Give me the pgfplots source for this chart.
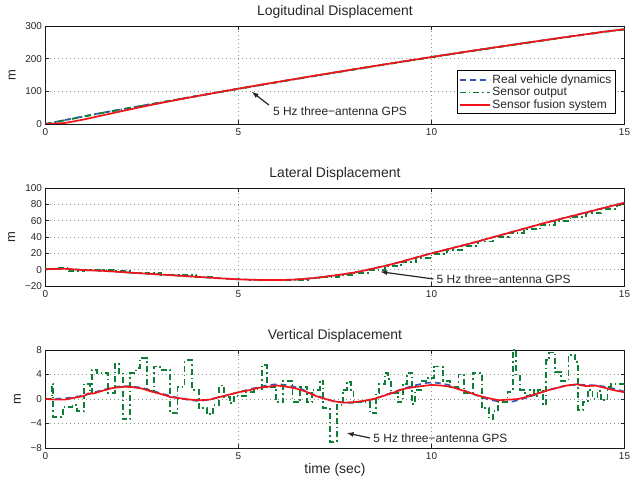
\documentclass[border=0pt]{standalone}
\usepackage{fontspec}
\setmainfont{Liberation Sans}
\usepackage{pgfplots}
\pgfplotsset{compat=1.18}
\definecolor{mblue}{rgb}{0.22,0.33,0.72}
\definecolor{mgreen}{rgb}{0.05,0.50,0.22}
\definecolor{mred}{rgb}{0.95,0.08,0.10}
\usetikzlibrary{arrows.meta}
\tikzset{
  ann/.style={font=\fontsize{12}{14}\selectfont, text=black!85, anchor=west, inner sep=0pt},
  arr/.style={-{Latex[length=7bp,width=5bp]}, line width=1.2pt, black!85},
}
\pgfplotsset{
  mstyle/.style={
    scale only axis, width=579bp, height=98bp,
    xmin=0, xmax=15, xtick={0,5,10,15},
    xticklabels={0,5,10,15},
    grid=major,
    grid style={dash pattern=on 0.8bp off 3.2bp, gray!85, line width=0.7pt},
    tick align=inside, major tick length=4bp,
    every tick/.style={black!85, line width=0.8pt},
    axis line style={line width=0.9pt, black!90},
    tick label style={font=\fontsize{10}{12}\selectfont, text=black!85},
    xticklabel style={yshift=-1bp},
    title style={font=\fontsize{14}{16}\selectfont, text=black!85, yshift=-2bp},
    ylabel style={font=\fontsize{13}{15}\selectfont, text=black!85, xshift=0bp, yshift=3bp},
    clip=true,
  },
  real/.style={mblue, dash pattern=on 6bp off 4bp, line width=1.7pt},
  sens/.style={mgreen, dash pattern=on 6bp off 3bp on 1.5bp off 3bp, line width=1.9pt},
  fus/.style={mred, line width=1.7pt},
}
\begin{document}
\begin{tikzpicture}
\path (0bp,0bp) rectangle (634bp,480bp);
% ---------------- Longitudinal ----------------
\begin{axis}[mstyle, at={(45.5bp,356bp)}, anchor=south west,
  ymin=0, ymax=300, ytick={0,100,200,300}, yticklabels={0,100,200,300},
  title={Logitudinal Displacement}, ylabel={m},
  legend style={at={(0.985,0.099)}, anchor=south east, draw=black, line width=0.8pt,
    font=\fontsize{12}{14}\selectfont, text=black!85, row sep=-1.5bp, inner sep=2bp},
  legend cell align=left,
  legend image code/.code={\draw[#1, line width=1.6pt] (0bp,0bp) -- (30bp,0bp);}]
\addplot[real] coordinates {(0,0) (0.5,12) (1,24) (1.5,35) (2,45.5) (2.5,56) (3,66.5) (3.5,77) (4,87.5) (4.5,97.8) (5,108) (5.5,118.2) (6,128.3) (6.5,138.3) (7,148.1) (7.5,157.9) (8,167.5) (8.5,177.1) (9,186.5) (9.5,195.8) (10,205) (10.5,214.1) (11,223.1) (11.5,232) (12,240.7) (12.5,249.4) (13,257.9) (13.5,266.4) (14,274.7) (14.5,282.9) (15,290)};
\addlegendentry{Real vehicle dynamics}
\addplot[sens] coordinates {(0,0) (0.5,11.5) (1,23) (1.5,34.5) (2,45) (2.5,55.5) (3,66) (3.5,76.5) (4,87) (4.5,97.3) (5,107.5) (5.5,117.7) (6,127.8) (6.5,137.8) (7,147.6) (7.5,157.4) (8,167) (8.5,176.6) (9,186) (9.5,195.3) (10,204.5) (10.5,213.6) (11,222.6) (11.5,231.5) (12,240.2) (12.5,248.9) (13,257.4) (13.5,265.9) (14,274.2) (14.5,282.4) (15,289.5)};
\addlegendentry{Sensor output}
\addplot[fus] coordinates {(0,0) (0.5,3) (1,14) (1.5,27) (2,40) (2.5,52.5) (3,64.5) (3.5,76) (4,87) (4.5,97.8) (5,108.3) (5.5,118.5) (6,128.5) (6.5,138.5) (7,148.3) (7.5,158) (8,167.6) (8.5,177.1) (9,186.5) (9.5,195.8) (10,205) (10.5,214.1) (11,223.1) (11.5,232) (12,240.7) (12.5,249.4) (13,257.9) (13.5,266.4) (14,274.7) (14.5,282.9) (15,290)};
\addlegendentry{Sensor fusion system}
\draw[arr] (axis cs:5.79,58) -- (axis cs:5.34,99);
\node[ann] at (axis cs:5.89,37.6) {5 Hz three−antenna GPS};
\end{axis}
% ---------------- Lateral ----------------
\begin{axis}[mstyle, at={(45.5bp,194bp)}, anchor=south west,
  ymin=-20, ymax=100, ytick={-20,0,20,40,60,80,100},
  yticklabels={−20,0,20,40,60,80,100},
  title={Lateral Displacement}, ylabel={m}]
\addplot[real, smooth] coordinates {(0,0.5) (0.5,1) (1,-0.5) (1.5,-1.5) (2,-3) (2.5,-4.5) (3,-6) (3.5,-7.5) (4,-9) (4.5,-10.5) (5,-11.8) (5.5,-12.5) (6,-12.7) (6.5,-12) (7,-10) (7.5,-7) (8,-3.5) (8.5,1.5) (9,7) (9.5,13.5) (10,20) (10.5,26) (11,32) (11.5,38.5) (12,45) (12.5,51.5) (13,58) (13.5,64) (14,70) (14.5,76) (15,82)};
\addplot[sens, const plot] coordinates {(0,0.5) (0.3,2) (0.6,-1.5) (1,-0.8) (1.5,0) (1.8,-1.5) (2.2,-4.5) (2.6,-4) (3,-6.3) (3.5,-7) (3.9,-9.3) (4.4,-10.8) (4.8,-12) (5.3,-12.8) (5.8,-13.3) (6.3,-12.8) (6.8,-10.8) (7.2,-8.8) (7.6,-6.5) (8,-4) (8.4,0) (8.8,4.5) (9.2,9.5) (9.6,14) (10,19) (10.4,24.5) (10.8,29.5) (11.2,34.5) (11.6,39.5) (12,44.5) (12.4,49.5) (12.8,55) (13.2,60) (13.6,64.5) (14,69) (14.4,74) (14.8,79) (15,81)};
\addplot[fus, smooth] coordinates {(0,0.5) (0.5,1) (1,-0.5) (1.5,-1.5) (2,-3) (2.5,-4.5) (3,-6) (3.5,-7.5) (4,-9) (4.5,-10.5) (5,-11.8) (5.5,-12.5) (6,-12.7) (6.5,-12) (7,-10) (7.5,-7) (8,-3.5) (8.5,1.5) (9,7) (9.5,13.5) (10,20) (10.5,26) (11,32) (11.5,38.5) (12,45) (12.5,51.5) (13,58) (13.5,64) (14,70) (14.5,76) (15,82)};
\draw[arr] (axis cs:10.05,-11.4) -- (axis cs:8.67,-2.5);
\node[ann] at (axis cs:10.13,-11.4) {5 Hz three−antenna GPS};
\end{axis}
% ---------------- Vertical ----------------
\begin{axis}[mstyle, at={(45.5bp,32bp)}, anchor=south west,
  ymin=-8, ymax=8, ytick={-8,-4,0,4,8},
  yticklabels={−8,−4,0,4,8},
  title={Vertical Displacement}, ylabel={m},
  xlabel={time (sec)},
  xlabel style={font=\fontsize{14}{16}\selectfont, text=black!85, yshift=3bp}]
\addplot[real, smooth] coordinates {(0,0) (0.5,0.1) (1,0.6) (1.5,1.5) (2,2.1) (2.5,1.8) (3,0.9) (3.5,0.1) (4,-0.3) (4.5,0.3) (5,1.1) (5.5,1.9) (6,2.4) (6.5,1.9) (7,0.6) (7.5,-0.4) (8,-0.6) (8.5,0.0) (9,1.1) (9.5,2.1) (10,2.7) (10.5,2.2) (11,1.0) (11.5,-0.1) (12,-0.5) (12.5,0.3) (13,1.4) (13.5,2.2) (14,2.3) (14.5,2.0) (15,1.2)};
\addplot[sens, const plot] coordinates {(0,0) (0.16,2.5) (0.2,-2.9) (0.45,-1.3) (0.7,-1.0) (0.82,-2.0) (1.0,2.5) (1.15,1.0) (1.2,4.8) (1.33,4.3) (1.62,1.0) (1.8,5.8) (1.9,4.3) (2.0,-3.3) (2.2,4.3) (2.35,5.0) (2.45,6.7) (2.62,1.3) (2.8,5.3) (2.97,4.7) (3.23,-2.3) (3.42,2.0) (3.6,6.3) (3.8,1.5) (3.97,-1.5) (4.18,-2.5) (4.35,-1.0) (4.5,2.2) (4.62,0.3) (4.78,-0.7) (4.88,0.5) (5.2,1.2) (5.4,1.6) (5.6,5.5) (5.73,2.0) (5.98,-0.5) (6.16,3.0) (6.4,-0.5) (6.6,2.0) (6.77,-0.5) (6.9,1.5) (7.1,3.0) (7.2,-1.5) (7.37,-7.0) (7.55,-1.0) (7.7,1.5) (7.8,2.8) (7.92,1.5) (7.98,-0.5) (8.4,-2.3) (8.57,1.0) (8.65,2.5) (8.8,4.3) (8.87,3.3) (8.95,1.0) (9.13,-0.5) (9.25,2.5) (9.37,4.3) (9.5,-0.8) (9.57,1.5) (9.74,3.0) (9.9,3.5) (10.07,5.3) (10.3,3.0) (10.47,2.0) (10.7,4.0) (10.85,1.0) (11.07,4.3) (11.3,-1.5) (11.5,-3.2) (11.6,-2.0) (11.72,-0.5) (11.97,1.2) (12.1,8.0) (12.2,4.0) (12.3,1.5) (12.42,0.5) (12.55,1.5) (12.65,0.5) (12.75,1.5) (12.9,-1.0) (12.97,6.3) (13.05,7.6) (13.2,4.4) (13.35,3.0) (13.55,7.2) (13.72,6.0) (13.8,-1.8) (13.92,-0.5) (14.05,1.5) (14.17,0) (14.3,1.3) (14.39,-0.2) (14.56,2.0) (14.65,2.4) (15,2.4)};
\addplot[fus] coordinates {(0,0) (0.25,-0.1) (0.5,-0.1) (0.75,0.2) (1.0,0.5) (1.1,0.9) (1.25,0.9) (1.5,1.4) (1.75,1.8) (2.0,2.0) (2.25,1.95) (2.5,1.7) (2.75,1.2) (3.0,0.8) (3.25,0.3) (3.5,0.1) (3.75,-0.1) (4.0,-0.2) (4.25,-0.1) (4.5,0.3) (4.75,0.7) (5.0,1.1) (5.25,1.4) (5.5,1.8) (5.75,2.0) (6.0,2.2) (6.25,2.0) (6.5,1.7) (6.75,1.2) (7.0,0.5) (7.25,0.0) (7.5,-0.4) (7.75,-0.6) (8.0,-0.5) (8.25,-0.3) (8.5,0.0) (8.75,0.5) (9.0,1.0) (9.25,1.6) (9.5,1.9) (9.75,2.1) (10.0,2.3) (10.25,2.2) (10.5,2.0) (10.75,1.5) (11.0,1.0) (11.25,0.5) (11.5,0.1) (11.75,-0.2) (12.0,-0.1) (12.25,0.0) (12.5,0.4) (12.75,0.9) (13.0,1.4) (13.25,1.8) (13.5,2.2) (13.75,2.4) (14.0,2.1) (14.25,2.2) (14.5,1.8) (14.75,1.4) (15.0,1.1)};
\draw[arr] (axis cs:8.41,-6.37) -- (axis cs:7.8,-5.55);
\node[ann] at (axis cs:8.49,-6.37) {5 Hz three−antenna GPS};
\end{axis}
\end{tikzpicture}
\end{document}
